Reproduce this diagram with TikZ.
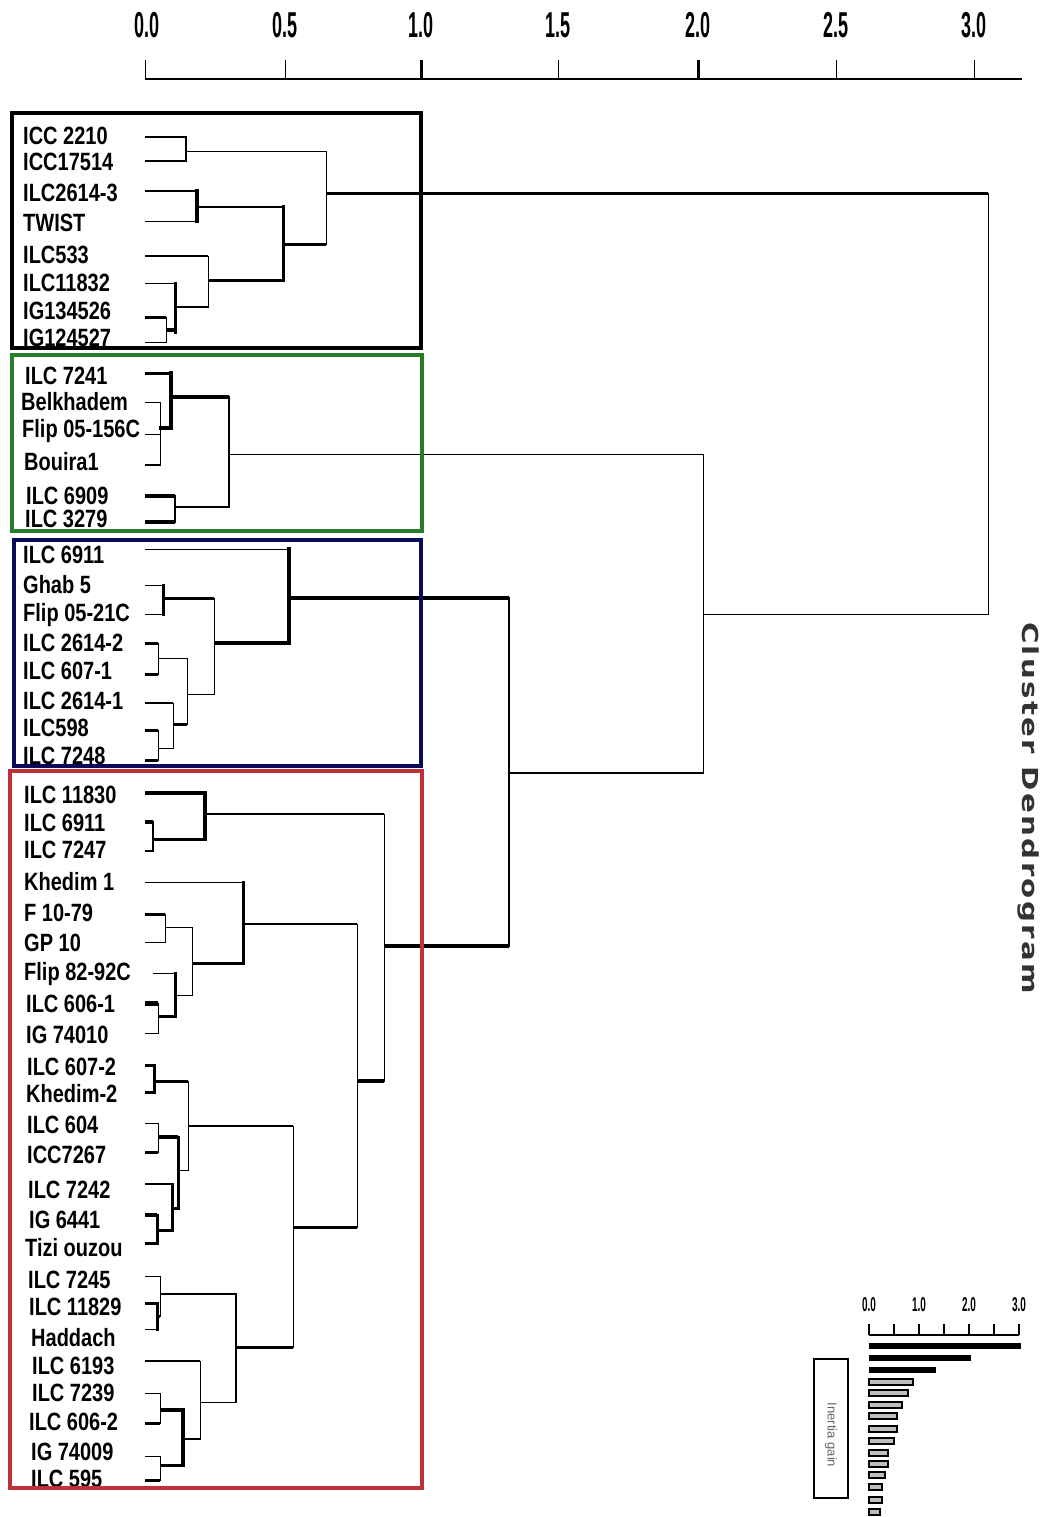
\documentclass[tikz,border=0pt]{standalone}
\usepackage{fontspec}
\setmainfont{Liberation Sans}
\newfontfamily\labelfont[FakeStretch=0.8]{Liberation Sans}
\newfontfamily\axisfont[FakeStretch=0.5]{Liberation Sans}
\newfontfamily\titlefont[LetterSpace=8]{DejaVu Sans}
\usepackage{xcolor}
\definecolor{grpblack}{HTML}{000000}
\definecolor{grpgreen}{HTML}{287D28}
\definecolor{grpnavy}{HTML}{0A0A5A}
\definecolor{grpred}{HTML}{BE323C}
\definecolor{bargray}{HTML}{BEBEBE}
\usepackage{tikz}

\tikzset{
  leaf/.style={anchor=base west, inner sep=0pt, font=\labelfont\bfseries\fontsize{25}{30}\selectfont},
  axislabel/.style={anchor=base, inner sep=0pt, font=\axisfont\bfseries\fontsize{36}{40}\selectfont},
  insetlabel/.style={anchor=base, inner sep=0pt, font=\axisfont\bfseries\fontsize{20}{24}\selectfont},
  groupbox/.style={line width=3.5pt},
}

\begin{document}
\begin{tikzpicture}[x=1pt, y=-1pt]
    \useasboundingbox (0,0) rectangle (1043,1517);

    % axis
    \draw[line width=1.5pt] (145,79) -- (1022,79);
    \foreach \x/\lw in {145/1,285/1,421/3,558/1,698/3,836/1,974/1} {
        \draw[line width=\lw pt] (\x,60) -- (\x,79);
    }
    \foreach \x/\v [count=\k] in {147/0.0,285/0.5,421/1.0,558/1.5,698/2.0,836/2.5,974/3.0} {
        \node[axislabel] (tick\k) at (\x,38) {\v};
    }

    % horizontal branches
    \foreach \xa/\xb/\y/\lw in {
        145/186/137/2, 145/186/161/1.5, 145/197/191/1.5, 145/197/221/1,
        186/326/152/1, 197/283/207/1, 145/208/256/2, 145/175/283/1,
        145/166/317/3, 145/166/342/1, 166/175/330/3.5, 175/208/307/1.5,
        208/283/280/3, 283/326/244/3, 326/988/194/3,
        % green group
        145/171/373/3, 145/160/402/1, 145/160/434/1, 145/160/465/1.5,
        159/171/428/3.5, 171/229/397/3.5, 145/175/496/3.5, 145/175/522/3.5,
        175/229/507/1.5, 229/703/454/1,
        % navy group
        145/289/549/1, 145/163/585/1, 145/163/614/1, 163/214/598/3,
        145/158/643/3, 145/158/674/3, 158/187/658/1, 145/173/703/2,
        145/158/730/3, 145/158/760/3, 158/173/748/1, 173/187/724/3,
        187/214/694/1, 214/289/643/3.5, 289/509/598/3.5,
        % root
        703/988/614/1, 509/703/773/1.5,
        % red group
        145/205/793/4, 145/153/822/3.5, 145/153/851/1.5, 153/205/839/3,
        205/384/814/1.5, 145/243/882/1, 145/165/914/3, 145/165/942/1,
        165/192/927/1, 153/175/973/1, 145/158/1003/5, 145/158/1033/1,
        158/175/1016/3, 175/192/995/1, 192/243/963/3, 243/357/924/1.5,
        384/509/946/4,
        145/154/1065/3, 145/154/1092/3, 154/188/1081/3, 145/158/1123/1,
        145/158/1152/3, 158/178/1137/4, 145/172/1184/2, 145/157/1215/4,
        145/157/1243/3, 157/172/1230/3, 172/178/1208/3, 178/188/1170/1,
        188/293/1126/1.5, 357/384/1081/3.5, 293/357/1227/3,
        145/160/1276/1, 145/157/1303/3, 145/157/1329/1, 157/160/1316/3,
        160/236/1294/2, 145/200/1361/2, 145/160/1393/1, 145/160/1423/3,
        160/183/1410/4.5, 145/160/1456/1, 145/160/1480/3, 160/183/1465/3,
        183/200/1439/2, 200/236/1402/1, 236/293/1347/3} {
        \draw[line width=\lw pt] (\xa,\y) -- (\xb,\y);
    }

    % vertical branches
    \foreach \x/\ya/\yb/\lw in {
        186/137/161/1.5, 197/191/221/3.5, 166/317/342/1, 175/283/332/3,
        208/256/307/1, 283/207/280/3, 326/152/244/1, 988/194/614/1,
        160/402/465/1, 171/373/428/3.5, 175/496/522/2, 229/397/507/2,
        703/454/773/1,
        163/585/614/3, 158/643/674/1, 158/730/760/1, 173/703/748/1,
        187/658/724/1, 214/598/694/1, 289/549/643/3.5, 509/598/946/1.5,
        205/793/839/4, 153/822/851/1.5, 165/914/942/1, 158/1003/1033/1,
        175/973/1016/3, 192/927/995/1, 243/882/963/3, 384/814/1081/1,
        357/924/1227/1,
        154/1065/1092/3, 158/1123/1152/1, 157/1215/1243/3, 172/1184/1230/3,
        178/1137/1208/3, 188/1081/1170/1, 293/1126/1347/1,
        157/1303/1329/3, 160/1276/1316/1, 160/1393/1423/1, 160/1456/1480/1,
        183/1410/1465/4, 200/1361/1439/1, 236/1294/1402/2} {
        \draw[line width=\lw pt, line cap=rect] (\x,\ya) -- (\x,\yb);
    }

    % leaf labels
    \foreach \x/\y/\t [count=\k] in {
        23/145/ICC 2210, 23/171/ICC17514, 23/201/ILC2614-3, 23/231/TWIST,
        23/263/ILC533, 23/291/ILC11832, 23/319/IG134526, 23/346/IG124527,
        25/384/ILC 7241, 21/410/Belkhadem, 22/437/Flip 05-156C, 24/470/Bouira1,
        26/504/ILC 6909, 25/527/ILC 3279,
        23/563/ILC 6911, 23/593/Ghab 5, 23/621/Flip 05-21C, 23/651/ILC 2614-2,
        23/679/ILC 607-1, 23/709/ILC 2614-1, 23/736/ILC598, 23/764/ILC 7248,
        24/803/ILC 11830, 24/831/ILC 6911, 24/858/ILC 7247, 24/890/Khedim 1,
        24/921/F 10-79, 24/951/GP 10, 24/980/Flip 82-92C, 26/1012/ILC 606-1,
        26/1043/IG 74010, 27/1075/ILC 607-2, 26/1102/Khedim-2, 27/1133/ILC 604,
        27/1163/ICC7267, 28/1198/ILC 7242, 29/1228/IG 6441, 25/1256/Tizi ouzou,
        28/1288/ILC 7245, 29/1315/ILC 11829, 31/1346/Haddach, 32/1374/ILC 6193,
        32/1401/ILC 7239, 29/1430/ILC 606-2, 31/1460/IG 74009, 31/1487/ILC 595} {
        \node[leaf] (leaf\k) at (\x,\y) {\t};
    }

    % group boxes
    \draw[groupbox, grpblack] (12,113) rectangle (421,348);
    \draw[groupbox, grpgreen] (12,355) rectangle (422,531);
    \draw[groupbox, grpnavy] (14,540) rectangle (421,766);
    \draw[groupbox, grpred] (10,771) rectangle (422,1488);

    % title
    \node[rotate=-90, inner sep=0pt, text=black!80, font=\titlefont\bfseries\fontsize{22}{26}\selectfont] (title) at (1028,808)
        {\scalebox{1.33}[1]{Cluster Dendrogram}};

    % inertia gain inset
    \draw[line width=1.5pt] (869,1335) -- (1019,1335);
    \foreach \i in {0,...,6} {
        \draw[line width=1.5pt] (869+25*\i,1324) -- (869+25*\i,1335);
    }
    \foreach \i/\v in {0/0.0,1/1.0,2/2.0,3/3.0} {
        \node[insetlabel] (gain\i) at (869+50*\i,1311) {\v};
    }
    \foreach \y/\xe in {1346/1021,1358/971,1370/936} {
        \fill[black] (869,\y-3) rectangle (\xe,\y+3);
    }
    \foreach \y/\xe in {1382/913,1393/908,1405/902,1416/897,1429/897,1441/894,
                        1453/888,1464/888,1475/885,1487/882,1500/882,1512/880} {
        \draw[line width=1.2pt, fill=bargray] (869,\y-3) rectangle (\xe,\y+3);
    }
    \draw[line width=1.5pt] (814,1359) rectangle (848,1498);
    \node[rotate=-90, inner sep=0pt, text=black!60, font=\fontsize{13}{15}\selectfont] (gainlabel) at (831,1435) {Inertia gain};
\end{tikzpicture}
\end{document}
